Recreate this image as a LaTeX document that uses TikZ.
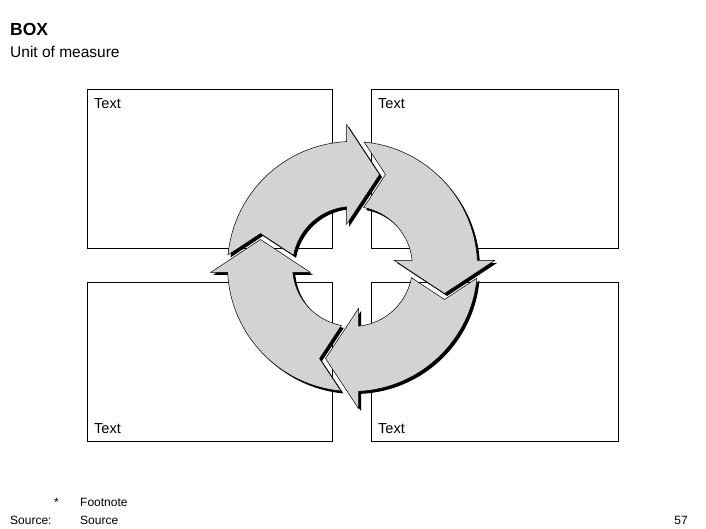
\documentclass[tikz,border=0pt]{standalone}
\usepackage{fontspec}
\setmainfont{Liberation Sans}
\definecolor{arrowgray}{RGB}{211,211,211}
\tikzset{
  box/.style={draw=black, line width=0.8pt, minimum width=245pt, minimum height=159pt, inner sep=0pt},
  boxtext/.style={anchor=base west, inner sep=0pt, font=\fontsize{14.5}{17}\selectfont},
  foot/.style={anchor=base west, inner sep=0pt, font=\fontsize{12}{14}\selectfont},
  arrowbody/.style={fill=arrowgray, draw=black, line width=0.5pt, line join=miter},
  arrowshadow/.style={fill=black}
}
\def\cyclearrow{(174.68:125) arc[start angle=174.68, end angle=92.75, radius=125] -- (-6,142) -- (27,92) -- (-6,42) -- (95.74:60) arc[start angle=95.74, end angle=169.25, radius=60] -- (-92,33) -- cycle}
\begin{document}
\begin{tikzpicture}[x=1pt,y=1pt]
\useasboundingbox (0,0) rectangle (706,529);
% title
\node[anchor=base west, inner sep=0pt, font=\fontsize{17.5}{20}\selectfont\bfseries] (title) at (10,493) {BOX};
\node[anchor=base west, inner sep=0pt, font=\fontsize{15.5}{18}\selectfont] (unit) at (10,471.5) {Unit of measure};
% boxes
\node[box] (tl) at (209.5,360.5) {};
\node[box, minimum width=247pt] (tr) at (494.5,360.5) {};
\node[box] (bl) at (209.5,167.5) {};
\node[box, minimum width=247pt] (br) at (494.5,167.5) {};
\node[boxtext] (tltext) at (94,420) {Text};
\node[boxtext] (trtext) at (378,420) {Text};
\node[boxtext] (bltext) at (94,95) {Text};
\node[boxtext] (brtext) at (378,95) {Text};
% cycle arrows
\begin{scope}[shift={(352.5,262.5)}]
  \foreach \r in {0,-90,-180,-270}{
    \begin{scope}[shift={(2.5,-2.5)}, rotate=\r]
      \path[arrowshadow] \cyclearrow;
    \end{scope}
  }
  \foreach \r in {0,-90,-180,-270}{
    \begin{scope}[rotate=\r]
      \path[arrowbody] \cyclearrow;
    \end{scope}
  }
\end{scope}
% footer
\node[foot] (star) at (54,22) {*};
\node[foot] (fn) at (80,22) {Footnote};
\node[foot] (srclbl) at (10,4) {Source:};
\node[foot] (src) at (80,4) {Source};
\node[foot, anchor=base east] (page) at (688,4) {57};
\end{tikzpicture}
\end{document}
